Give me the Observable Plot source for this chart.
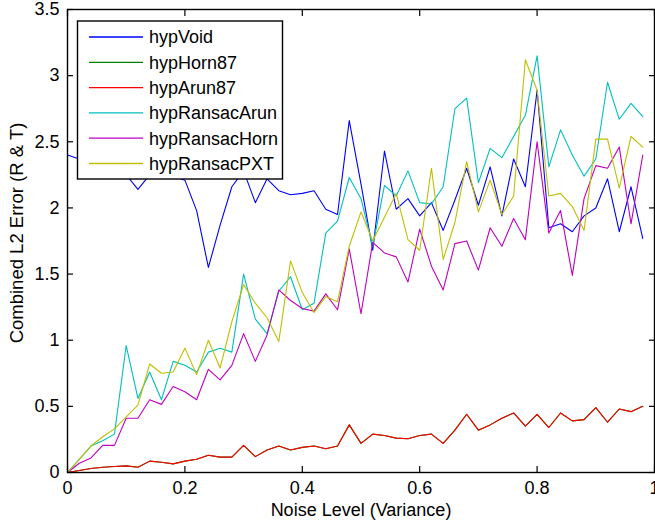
<!DOCTYPE html>
<html>
<head>
<meta charset="utf-8">
<script src="https://cdn.jsdelivr.net/npm/d3@7"></script>
<script src="https://cdn.jsdelivr.net/npm/@observablehq/plot@0.6"></script>
<style>
  html, body { margin: 0; padding: 0; background: #fff; }
  #chart { position: relative; width: 655px; height: 524px; }
</style>
</head>
<body>
<div id="chart"></div>
<script>
const noise = [0,0.02,0.04,0.06,0.08,0.10,0.12,0.14,0.16,0.18,0.20,0.22,0.24,0.26,0.28,0.30,0.32,0.34,0.36,0.38,0.40,0.42,0.44,0.46,0.48,0.50,0.52,0.54,0.56,0.58,0.60,0.62,0.64,0.66,0.68,0.70,0.72,0.74,0.76,0.78,0.80,0.82,0.84,0.86,0.88,0.90,0.92,0.94,0.96,0.98];

const hypVoid = [2.40,2.37,2.34,2.30,2.27,2.25,2.14,2.25,2.27,2.24,2.21,1.98,1.55,1.87,2.16,2.28,2.04,2.22,2.13,2.10,2.11,2.13,1.99,1.95,2.66,2.18,1.68,2.43,1.99,2.07,1.94,2.04,1.83,2.06,2.30,2.02,2.31,1.94,2.37,2.16,2.89,1.85,1.88,1.82,1.94,2.00,2.22,1.82,2.16,1.77];

const hypHorn87 = [0,0.015,0.03,0.04,0.045,0.05,0.04,0.086,0.078,0.065,0.086,0.10,0.13,0.116,0.116,0.205,0.12,0.17,0.20,0.17,0.19,0.20,0.18,0.20,0.36,0.22,0.29,0.28,0.26,0.255,0.28,0.29,0.22,0.32,0.44,0.32,0.36,0.41,0.45,0.35,0.44,0.34,0.45,0.39,0.40,0.49,0.38,0.48,0.46,0.50];

const hypArun87 = [0,0.015,0.03,0.04,0.045,0.05,0.04,0.086,0.078,0.065,0.086,0.10,0.13,0.116,0.116,0.205,0.12,0.17,0.20,0.17,0.19,0.20,0.18,0.20,0.36,0.22,0.29,0.28,0.26,0.255,0.28,0.29,0.22,0.32,0.44,0.32,0.36,0.41,0.45,0.35,0.44,0.34,0.45,0.39,0.40,0.49,0.38,0.48,0.46,0.50];

const hypRansacArun = [0,0.10,0.20,0.24,0.29,0.96,0.56,0.76,0.55,0.84,0.81,0.76,0.91,0.94,0.91,1.50,1.16,1.05,1.37,1.48,1.23,1.28,1.81,1.90,2.23,2.07,1.71,2.17,2.09,2.28,2.04,2.03,2.16,2.75,2.83,2.19,2.45,2.38,2.54,2.70,3.15,2.31,2.59,2.40,2.24,2.37,2.95,2.67,2.79,2.69];

const hypRansacHorn = [0,0.07,0.11,0.205,0.205,0.41,0.41,0.55,0.515,0.65,0.61,0.55,0.78,0.70,0.81,1.05,0.84,1.04,1.38,1.30,1.24,1.22,1.35,1.23,1.69,1.20,1.74,1.66,1.63,1.44,1.84,1.56,1.38,1.73,1.75,1.53,1.85,1.71,1.92,1.76,2.50,1.81,1.98,1.49,2.07,2.32,2.30,2.46,1.88,2.40];

const hypRansacPXT = [0,0.10,0.20,0.27,0.33,0.42,0.51,0.82,0.75,0.76,0.94,0.74,1.00,0.79,1.14,1.42,1.28,1.17,0.99,1.60,1.36,1.21,1.33,1.29,1.71,1.97,1.75,1.93,2.11,1.76,1.68,2.30,1.61,1.89,2.35,1.97,2.21,1.95,2.09,3.12,2.89,2.09,2.11,2.01,1.83,2.52,2.52,2.15,2.54,2.46];

const seriesNames = ["hypVoid","hypHorn87","hypArun87","hypRansacArun","hypRansacHorn","hypRansacPXT"];
const seriesValues = [hypVoid, hypHorn87, hypArun87, hypRansacArun, hypRansacHorn, hypRansacPXT];
const seriesColors = ["#0000ff","#008000","#ff0000","#00bfbf","#bf00bf","#bfbf00"];

const xTicks = [0,0.2,0.4,0.6,0.8,1];
const xTickLabels = ["0","0.2","0.4","0.6","0.8","1"];
const yTicks = [0,0.5,1,1.5,2,2.5,3,3.5];
const yTickLabels = ["0","0.5","1","1.5","2","2.5","3","3.5"];

const xLabel = "Noise Level (Variance)";
const yLabel = "Combined L2 Error (R & T)";

const rows = seriesNames.flatMap((name, k) =>
  seriesValues[k].map((v, i) => ({ x: noise[i], y: v, s: name }))
);

const fontFamily = "'Liberation Sans', Arial, Helvetica, sans-serif";

const svg = Plot.plot({
  width: 655,
  height: 524,
  marginLeft: 67,
  marginRight: 1,
  marginTop: 9,
  marginBottom: 52,
  style: { fontFamily, fontSize: "18px", background: "#fff", color: "#000", overflow: "visible" },
  x: { domain: [0, 1], ticks: xTicks },
  y: { domain: [0, 3.5], ticks: yTicks },
  color: { domain: seriesNames, range: seriesColors },
  marks: [
    Plot.line(rows, { x: "x", y: "y", z: "s", stroke: "s", strokeWidth: 1.1 }),
    Plot.frame({ stroke: "#000", strokeWidth: 1.4 }),
    Plot.axisX({ anchor: "bottom", ticks: xTicks, tickSize: 0, tickPadding: 9, tickFormat: d => xTickLabels[xTicks.indexOf(d)], label: null, fontSize: 18 }),
    Plot.axisX({ anchor: "bottom", ticks: xTicks, tickSize: -6, text: null, label: null, strokeWidth: 1.2 }),
    Plot.axisX({ anchor: "top", ticks: xTicks, tickSize: -6, text: null, label: null, strokeWidth: 1.2 }),
    Plot.axisY({ anchor: "left", ticks: yTicks, tickSize: 0, tickPadding: 8, tickFormat: d => yTickLabels[yTicks.indexOf(d)], label: null, fontSize: 18 }),
    Plot.axisY({ anchor: "left", ticks: yTicks, tickSize: -6, text: null, label: null, strokeWidth: 1.2 }),
    Plot.axisY({ anchor: "right", ticks: yTicks, tickSize: -6, text: null, label: null, strokeWidth: 1.2 }),
    Plot.text([xLabel], { text: d => d, frameAnchor: "bottom", textAnchor: "middle", dy: 43, fontSize: 18 }),
    Plot.text([yLabel], { text: d => d, frameAnchor: "left", textAnchor: "middle", dx: -50, dy: -8, rotate: -90, fontSize: 18.5 })
  ]
});

// Legend (MATLAB-style box in upper left)
const lg = d3.select(svg).append("g")
  .attr("font-family", fontFamily).attr("font-size", 18).attr("text-anchor", "start");
lg.append("rect").attr("x", 77.5).attr("y", 21).attr("width", 205).attr("height", 158)
  .attr("fill", "#fff").attr("stroke", "#000").attr("stroke-width", 1.4);
seriesNames.forEach((name, k) => {
  const yy = 37 + 25.3 * k;
  lg.append("line").attr("x1", 89).attr("x2", 143).attr("y1", yy).attr("y2", yy)
    .attr("stroke", seriesColors[k]).attr("stroke-width", 1.3);
  lg.append("text").attr("x", 149).attr("y", yy).attr("dy", "0.35em")
    .attr("text-anchor", "start").attr("fill", "#000").text(name);
});

document.getElementById("chart").appendChild(svg);
</script>
</body>
</html>
